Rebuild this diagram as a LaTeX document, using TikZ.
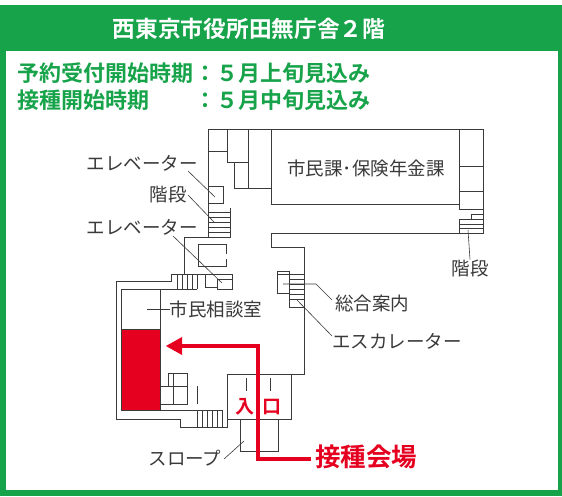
\documentclass[tikz,border=0pt]{standalone}
\usepackage{fontspec}
\setmainfont{Noto Sans CJK JP}
\newfontfamily\jpb{Noto Sans CJK JP Bold}
\definecolor{gr}{HTML}{17A34A}
\definecolor{rd}{HTML}{E60020}
\definecolor{ink}{HTML}{3A3A3A}
\tikzset{
 wall/.style={draw=ink,line width=0.8pt},
 lead/.style={draw=ink,line width=0.6pt},
 lab/.style={font=\fontsize{18.5}{18.5}\selectfont,text=ink,inner sep=0pt,outer sep=0pt},
 head/.style={font=\jpb\fontsize{22}{22}\selectfont,text=gr,inner sep=0pt,anchor=west},
 route/.style={draw=rd,line width=3.4pt}
}
\begin{document}
\begin{tikzpicture}[x=1pt,y=-1pt]
\useasboundingbox (0,0) rectangle (562,496);
\fill[white] (0,0) rectangle (562,496);
\fill[gr] (0,5) rectangle (562,496);
\fill[white] (6,51) rectangle (558,490);
\node[font=\jpb\fontsize{22.7}{22.7}\selectfont,text=white,inner sep=0pt] (title) at (249,29) {西東京市役所田無庁舎２階};
\node[head] (h1a) at (17,73) {予約受付開始時期};
\node[head] (h1b) at (194,73) {：５月上旬見込み};
\node[head] (h2a) at (17,100) {接種開始時期};
\node[head] (h2b) at (194,100) {：５月中旬見込み};
% upper left block
\draw[wall] (208,237) -- (208,129) -- (483,129) -- (483,233) -- (271,233) -- (271,247) -- (304,247) -- (304,374) -- (227,374) -- (227,427) -- (180,427) -- (180,419) -- (116,419) -- (116,281) -- (171,281) -- (171,274) -- (232,274) -- (232,289) -- (217,289) -- (217,279) -- (232,279);
\draw[wall] (208,151) -- (227,151) (227,129) -- (227,162) -- (248,162) (234,162) -- (234,188) -- (271,188) (248,129) -- (248,188) (271,129) -- (271,204) -- (459,204) (459,129) -- (459,209) -- (483,209) (459,166) -- (483,166) (459,191) -- (483,191);
\draw[wall] (208,186) -- (223,186) -- (223,203) -- (208,203);
\draw[wall] (208,212) -- (230,212) (230,208) -- (230,237) -- (184,237) -- (184,274) (208,217) -- (230,217) (208,222) -- (230,222) (208,227) -- (230,227) (208,232) -- (230,232);
\draw[wall] (226,254) -- (226,244) -- (198,244) -- (198,266) -- (226,266) -- (226,259);
% stairs right
\draw[wall] (459,233) -- (459,219) -- (483,219) (471,219) -- (471,214) -- (483,214) (459,224) -- (483,224) (459,228) -- (483,228);
% stairs top mid
\draw[wall] (177,274) -- (177,289) (182,274) -- (182,289) (187,274) -- (187,289) (192,274) -- (192,289) (197,274) -- (197,289);
\draw[wall] (121,410) -- (121,289) -- (197,289) (160,289) -- (160,410);
\draw[wall] (205,274) -- (205,287) -- (217,287);
% lobby stairs
\draw[wall] (289,274) -- (277,274) (277,271) -- (289,271) -- (289,307) -- (304,307) (277,271) -- (277,293) -- (289,293);
\foreach \yy in {274,279,284,289,294,299} \draw[wall] (289,\yy) -- (304,\yy);
% red room
\fill[rd] (121,329) rectangle (160,410);
\draw[wall] (121,329) rectangle (160,410);
% cluster
\draw[wall] (160,386) -- (187,386) -- (187,404) -- (160,404) (168,386) -- (168,373) -- (187,373) -- (187,386) (173,373) -- (173,404) (197,386) -- (197,404);
% lower stairs
\draw[wall] (160,410) -- (222,410) -- (222,427);
\foreach \xx in {197,202,207,212,217} \draw[wall] (\xx,410) -- (\xx,427);
% entrance
\draw[wall] (227,419) -- (291,419) -- (291,374);
\draw[wall] (240,419) -- (240,451) -- (278,451) -- (278,419);
\draw[wall] (246,378) -- (246,391) (270,378) -- (270,391);
% leaders and labels
\node[lab] (ev1) at (142,163) {エレベーター};
\node[lab] (st1) at (168,194) {階段};
\node[lab] (ev2) at (142,227) {エレベーター};
\node[lab] (sm) at (216,309) {市民相談室};
\node[lab] (slope) at (185,458) {スロープ};
\node[lab] (sogo) at (372,303) {総合案内};
\node[lab] (esc) at (397,341) {エスカレーター};
\node[lab] (st2) at (470,268) {階段};
\node[lab] (ka) at (366,168) {市民課･保険年金課};
\coordinate (l1) at (215,197);
\coordinate (l2) at (214,222);
\coordinate (l3) at (222,283);
\coordinate (l4) at (147,309);
\coordinate (l5) at (244,441);
\coordinate (l6) at (283,284);
\coordinate (l6b) at (316,284);
\coordinate (l7) at (297,300);
\coordinate (l8) at (468,230);
\draw[lead] (188,171) -- (l1);
\draw[lead] (188,195) -- (l2);
\draw[lead] (173,236) -- (l3);
\draw[lead] (l4) -- (sm.west);
\draw[lead] (224,459) -- (l5);
\draw[lead] (l6) -- (l6b) -- (332,300);
\draw[lead] (l7) -- (332,336);
\draw[lead] (l8) -- (st2.north);
% route
\node[font=\jpb\fontsize{19}{19}\selectfont,text=rd,inner sep=0pt] (en1) at (245,407) {入};
\node[font=\jpb\fontsize{19}{19}\selectfont,text=rd,inner sep=0pt] (en2) at (272,407) {口};
\node[font=\jpb\fontsize{25.5}{25.5}\selectfont,text=rd,inner sep=0pt,anchor=west] (venue) at (315,457) {接種会場};
\coordinate (tipbase) at (182,346);
\draw[route] (venue.west) ++(-4,2) -- (258,459) -- (258,346) -- (tipbase);
\fill[rd] (166,346) -- (182,337) -- (182,355) -- cycle;
\end{tikzpicture}
\end{document}
